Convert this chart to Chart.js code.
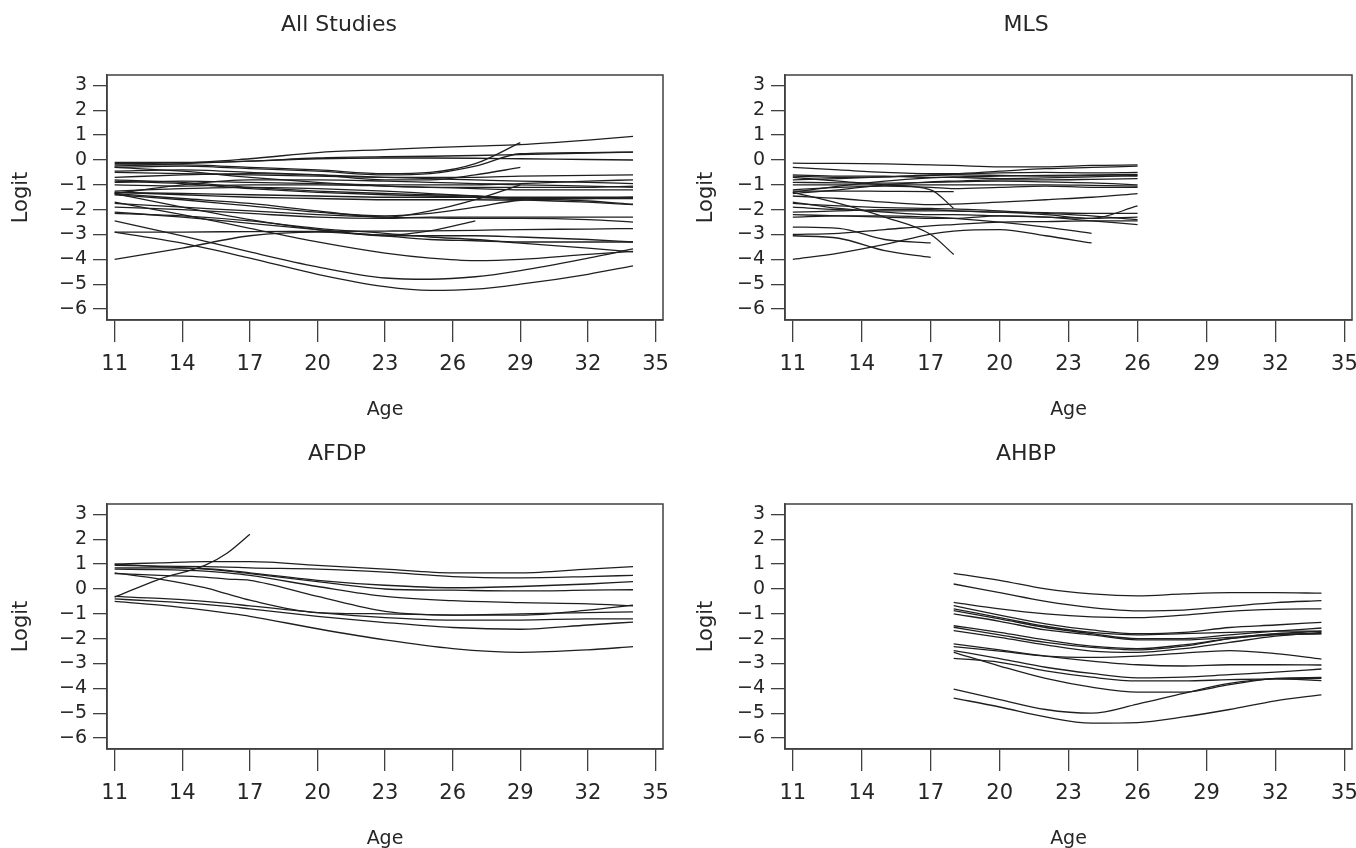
<!DOCTYPE html>
<html>
<head>
<meta charset="utf-8">
<script src="https://cdn.jsdelivr.net/npm/chart.js@4.4.1/dist/chart.umd.min.js"></script>
<style>
html,body{margin:0;padding:0;background:#fff;width:1356px;height:848px;overflow:hidden;position:relative;}
canvas{position:absolute;}
</style>
</head>
<body>
<canvas id="c1" width="678" height="424" style="left:0px;top:0px"></canvas>
<canvas id="c2" width="678" height="424" style="left:678px;top:0px"></canvas>
<canvas id="c3" width="678" height="424" style="left:0px;top:429px"></canvas>
<canvas id="c4" width="678" height="424" style="left:678px;top:429px"></canvas>
<script>
// ---- tick labels ----
const xTickLabels = [11, 14, 17, 20, 23, 26, 29, 32, 35];
const yTickLabels = [-6, -5, -4, -3, -2, -1, 0, 1, 2, 3];
const panelTitles = ['All Studies', 'MLS', 'AFDP', 'AHBP'];

// ---- All Studies ----
const allAges = [11, 14, 17, 20, 23, 25, 27, 29, 32, 34];
const allCurves = [
  [-0.1, -0.1, 0.05, 0.3, 0.42, 0.5, 0.56, 0.62, 0.8, 0.95],
  [-0.15, -0.12, -0.05, 0.08, 0.13, 0.15, 0.18, 0.22, 0.28, 0.32],
  [-0.2, -0.2, -0.3, -0.4, -0.55, -0.5, -0.15, 0.7, null, null],
  [-0.3, -0.25, -0.35, -0.45, -0.6, -0.55, -0.25, 0.25, 0.3, 0.32],
  [-0.45, -0.4, -0.5, -0.6, -0.8, -0.8, -0.6, -0.3, null, null],
  [-0.25, -0.15, -0.05, 0.05, 0.08, 0.08, 0.07, 0.05, 0.02, 0.0],
  [-0.5, -0.55, -0.6, -0.65, -0.7, -0.7, -0.7, -0.65, -0.62, -0.6],
  [-0.9, -0.85, -0.9, -0.95, -1.0, -1.0, -1.0, -0.95, -0.85, -0.8],
  [-0.85, -0.95, -1.15, -1.3, -1.4, -1.45, -1.5, -1.6, -1.7, -1.8],
  [-0.8, -0.9, -1.1, -1.25, -1.35, -1.4, -1.45, -1.55, -1.65, -1.78],
  [-1.35, -1.0, -0.8, -0.8, -0.85, -0.9, -0.95, -1.0, -1.05, -1.1],
  [-0.3, -0.45, -0.7, -0.9, -1.05, -1.1, -1.15, -1.2, -1.2, -1.2],
  [-1.3, -1.35, -1.4, -1.45, -1.5, -1.5, -1.5, -1.5, -1.5, -1.5],
  [-1.35, -1.55, -1.75, -2.05, -2.3, -2.05, -1.6, -1.0, null, null],
  [-1.4, -1.6, -1.85, -2.1, -2.25, -2.15, -1.9, -1.62, -1.55, -1.5],
  [-1.75, -1.9, -2.05, -2.2, -2.3, -2.33, -2.35, -2.35, -2.4, -2.5],
  [-1.9, -2.0, -2.15, -2.3, -2.35, -2.3, -2.3, -2.3, -2.3, -2.3],
  [-2.1, -2.3, -2.55, -2.8, -3.05, -3.05, -3.05, -3.1, -3.2, -3.3],
  [-2.15, -2.25, -2.45, -2.75, -2.95, -3.1, -3.2, -3.35, -3.55, -3.7],
  [-2.9, -2.9, -2.88, -2.87, -2.86, -2.85, -2.83, -2.8, -2.78, -2.76],
  [-4.0, -3.55, -3.05, -2.9, -3.02, -2.85, -2.45, null, null, null],
  [-2.45, -3.05, -3.7, -4.3, -4.75, -4.8, -4.7, -4.45, -3.95, -3.58],
  [-2.9, -3.35, -3.95, -4.6, -5.1, -5.25, -5.2, -5.0, -4.6, -4.26],
  [-1.7, -2.2, -2.75, -3.3, -3.75, -3.95, -4.05, -4.0, -3.8, -3.68],
  [-1.35, -1.9, -2.4, -2.8, -3.05, -3.2, -3.25, -3.3, -3.3, -3.3],
  [-1.0, -1.05, -1.0, -1.0, -1.05, -1.1, -1.1, -1.1, -1.1, -1.05],
  [-1.25, -1.15, -1.1, -1.15, -1.25, -1.35, -1.45, -1.55, -1.55, -1.55],
  [-1.3, -1.4, -1.5, -1.55, -1.6, -1.6, -1.6, -1.62, null, null],
  [-0.7, -0.6, -0.55, -0.6, -0.7, -0.75, -0.8, -0.85, -0.9, -0.95]
];

// ---- MLS ----
const mlsAges = [11, 13, 15, 17, 18, 20, 22, 24, 26];
const mlsCurves = [
  [-0.13, -0.14, -0.16, -0.2, -0.22, -0.28, -0.28, -0.22, -0.2],
  [-0.3, -0.4, -0.5, -0.55, -0.55, -0.45, -0.35, -0.3, -0.25],
  [-0.65, -0.7, -0.68, -0.6, -0.58, -0.52, -0.5, -0.52, -0.5],
  [-0.8, -0.75, -0.68, -0.62, -0.6, -0.62, -0.65, -0.63, -0.65],
  [-1.3, -1.05, -0.85, -0.72, -0.68, -0.65, -0.62, -0.6, -0.58],
  [-1.35, -1.2, -1.0, -0.88, -0.85, -0.8, -0.8, -0.78, -0.75],
  [-1.0, -1.0, -1.0, -1.0, -1.0, -1.0, -1.0, -1.02, -1.05],
  [-0.9, -0.92, -0.93, -0.9, -0.88, -0.85, -0.88, -0.92, -1.0],
  [-1.25, -1.25, -1.26, -1.27, -1.27, null, null, null, null],
  [-1.45, -1.55, -1.7, -1.8, -1.78, -1.7, -1.6, -1.5, -1.35],
  [-1.3, -1.75, -2.3, -3.0, -3.8, null, null, null, null],
  [-0.7, -0.85, -1.0, -1.2, -1.95, null, null, null, null],
  [-1.75, -1.85, -1.92, -1.95, -1.97, -2.05, -2.15, -2.25, -2.4],
  [-1.9, -2.0, -2.05, -2.05, -2.05, -2.1, -2.12, -2.15, -2.15],
  [-2.1, -2.05, -2.0, -2.0, -2.05, -2.1, -2.2, -2.35, -1.85],
  [-2.2, -2.25, -2.3, -2.35, -2.35, -2.25, -2.3, -2.45, -2.6],
  [-2.3, -2.25, -2.25, -2.3, -2.35, -2.5, -2.7, -2.95, null],
  [-2.7, -2.75, -3.2, -3.34, null, null, null, null, null],
  [-3.05, -3.15, -3.65, -3.92, null, null, null, null, null],
  [-4.0, -3.75, -3.4, -2.98, -2.86, -2.8, -3.05, -3.34, null],
  [-3.0, -2.95, -2.8, -2.65, -2.6, -2.5, -2.48, -2.45, -2.45],
  [-1.7, -1.95, -2.1, -2.2, -2.2, -2.25, -2.3, -2.35, -2.3],
  [-0.6, -0.65, -0.65, -0.7, -0.7, -0.75, -0.72, -0.68, -0.62],
  [-1.2, -1.1, -1.05, -1.1, -1.15, -1.1, -1.05, -1.1, -1.1]
];

// ---- AFDP ----
const afdpAges = [11, 13, 15, 16, 17, 20, 23, 26, 29, 32, 34];
const afdpCurves = [
  [-0.33, 0.4, 0.95, 1.45, 2.2, null, null, null, null, null, null],
  [1.0, 1.05, 1.1, 1.1, 1.1, 0.95, 0.8, 0.65, 0.65, 0.8, 0.9],
  [0.95, 0.92, 0.9, 0.88, 0.85, 0.8, 0.68, 0.5, 0.45, 0.5, 0.55],
  [0.85, 0.85, 0.82, 0.75, 0.65, 0.35, 0.15, 0.05, 0.1, 0.2, 0.3],
  [1.0, 0.9, 0.8, 0.72, 0.62, 0.3, 0.0, -0.05, -0.08, -0.05, -0.03],
  [0.65, 0.4, 0.05, -0.2, -0.45, -0.95, -1.0, -1.05, -1.05, -0.85, -0.65],
  [0.8, 0.78, 0.72, 0.65, 0.55, 0.1, -0.3, -0.47, -0.55, -0.6, -0.68],
  [-0.3, -0.38, -0.5, -0.58, -0.68, -0.95, -1.15, -1.25, -1.25, -1.2, -1.2],
  [-0.4, -0.5, -0.62, -0.7, -0.8, -1.1, -1.35, -1.55, -1.62, -1.45, -1.33],
  [-0.5, -0.65, -0.85, -0.97, -1.1, -1.6, -2.05, -2.4, -2.55, -2.45, -2.32],
  [0.62, 0.55, 0.48, 0.4, 0.35, -0.3, -0.9, -1.05, -1.0, -0.95, -0.92]
];

// ---- AHBP ----
const ahbpAges = [18, 20, 22, 24, 26, 28, 30, 32, 34];
const ahbpCurves = [
  [0.63, 0.35, 0.0, -0.2, -0.28, -0.2, -0.15, -0.15, -0.17],
  [0.2, -0.15, -0.5, -0.75, -0.88, -0.85, -0.7, -0.55, -0.47],
  [-0.54, -0.8, -1.0, -1.12, -1.15, -1.05, -0.9, -0.82, -0.8],
  [-0.67, -1.05, -1.4, -1.65, -1.8, -1.75, -1.55, -1.45, -1.34],
  [-0.8, -1.15, -1.5, -1.75, -1.85, -1.8, -1.75, -1.7, -1.7],
  [-0.87, -1.2, -1.55, -1.8, -2.0, -2.0, -1.85, -1.7, -1.57],
  [-1.0, -1.3, -1.65, -1.85, -2.05, -2.05, -1.95, -1.8, -1.7],
  [-1.48, -1.75, -2.05, -2.3, -2.4, -2.25, -2.0, -1.85, -1.81],
  [-1.54, -1.85, -2.15, -2.35, -2.45, -2.3, -2.0, -1.82, -1.8],
  [-1.68, -1.95, -2.25, -2.5, -2.55, -2.4, -2.15, -1.9, -1.75],
  [-2.21, -2.45, -2.7, -2.9, -3.05, -3.1, -3.05, -3.05, -3.06],
  [-2.32, -2.5, -2.7, -2.75, -2.7, -2.58, -2.48, -2.6, -2.82],
  [-2.48, -2.8, -3.15, -3.4, -3.58, -3.55, -3.45, -3.35, -3.22],
  [-2.79, -2.95, -3.3, -3.55, -3.7, -3.7, -3.65, -3.62, -3.69],
  [-2.55, -3.1, -3.6, -3.95, -4.15, -4.15, -3.85, -3.6, -3.56],
  [-4.03, -4.45, -4.85, -5.0, -4.63, -4.2, -3.8, -3.62, -3.6],
  [-4.39, -4.75, -5.15, -5.4, -5.38, -5.15, -4.85, -4.5, -4.26]
];

// ---- rendering ----
const FONT = '"DejaVu Sans", sans-serif';
const TEXT = '#262626';
const LINE = '#1f1f1f';
const FRAME = '#404040';

const frameAndTitle = {
  id: 'frameAndTitle',
  afterDraw(chart, args, opts) {
    const { ctx, chartArea: a } = chart;
    ctx.save();
    ctx.strokeStyle = FRAME;
    ctx.lineWidth = 1.5;
    ctx.strokeRect(a.left, a.top, a.right - a.left, a.bottom - a.top);
    ctx.fillStyle = TEXT;
    ctx.font = '22px ' + FONT;
    ctx.textAlign = 'center';
    ctx.textBaseline = 'middle';
    ctx.fillText(opts.text, opts.x, opts.y);
    ctx.restore();
  }
};

function makeDatasets(ages, curves) {
  return curves.map(c => ({
    data: ages.map((a, i) => ({ x: a, y: c[i] })).filter(p => p.y !== null),
    borderColor: LINE,
    borderWidth: 1.3,
    pointRadius: 0,
    fill: false,
    cubicInterpolationMode: 'monotone'
  }));
}

function buildPanel(id, title, ages, curves, padL, padR, titleX) {
  new Chart(document.getElementById(id), {
    type: 'line',
    data: { datasets: makeDatasets(ages, curves) },
    plugins: [frameAndTitle],
    options: {
      responsive: false,
      animation: false,
      events: [],
      layout: { padding: { left: padL, right: padR, top: 75, bottom: 0 } },
      plugins: {
        legend: { display: false },
        tooltip: { enabled: false },
        title: { display: false },
        frameAndTitle: { text: title, x: titleX, y: 25 }
      },
      scales: {
        x: {
          type: 'linear',
          min: 10.66,
          max: 35.33,
          afterBuildTicks: s => { s.ticks = xTickLabels.map(v => ({ value: v })); },
          afterFit: s => { s.height = 104; s.paddingLeft = 0; s.paddingRight = 0; },
          grid: { drawOnChartArea: false, drawTicks: true, tickLength: 22, color: FRAME, lineWidth: 1.3 },
          border: { display: true, color: FRAME, width: 1.5 },
          ticks: { font: { family: FONT, size: 21 }, color: TEXT, padding: 10, maxRotation: 0, autoSkip: false },
          title: { display: true, text: 'Age', font: { family: FONT, size: 19 }, color: TEXT, padding: { top: 0, bottom: 3 } }
        },
        y: {
          type: 'linear',
          min: -6.44,
          max: 3.42,
          afterBuildTicks: s => { s.ticks = yTickLabels.map(v => ({ value: v })); },
          afterFit: s => { s.width = 107 - padL; s.paddingTop = 0; s.paddingBottom = 0; },
          grid: { drawOnChartArea: false, drawTicks: true, tickLength: 14, color: FRAME, lineWidth: 1.3 },
          border: { display: true, color: FRAME, width: 1.5 },
          ticks: {
            font: { family: FONT, size: 19 }, color: TEXT, padding: 6,
            callback: v => (v < 0 ? '\u2212' + Math.abs(v) : String(v))
          },
          title: { display: true, text: 'Logit', font: { family: FONT, size: 21 }, color: TEXT, padding: { top: 9, bottom: 0 } }
        }
      }
    }
  });
}

buildPanel('c1', panelTitles[0], allAges, allCurves, 0, 15, 339);
buildPanel('c2', panelTitles[1], mlsAges, mlsCurves, 7, 4, 348);
buildPanel('c3', panelTitles[2], afdpAges, afdpCurves, 0, 15, 337);
buildPanel('c4', panelTitles[3], ahbpAges, ahbpCurves, 7, 4, 348);
</script>
</body>
</html>
